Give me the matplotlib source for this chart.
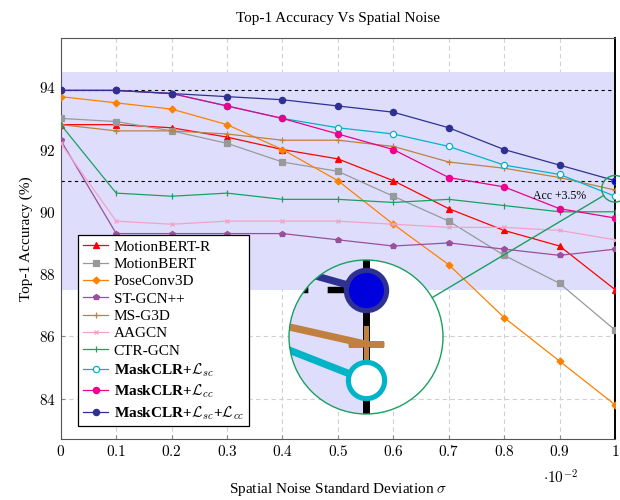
import numpy as np
import matplotlib
matplotlib.use('Agg')
import matplotlib.pyplot as plt
from matplotlib.patches import Circle
from matplotlib.lines import Line2D
from matplotlib.ticker import FuncFormatter, MultipleLocator
from matplotlib.transforms import IdentityTransform

plt.rcParams['font.family'] = ['Liberation Serif', 'DejaVu Serif']
plt.rcParams['mathtext.fontset'] = 'cm'

# noise std (x 10^-2)
sigma = [0, 0.1, 0.2, 0.3, 0.4, 0.5, 0.6, 0.7, 0.8, 0.9, 1.0]

motionbert_r = [92.8, 92.8, 92.7, 92.4, 92.0, 91.7, 91.0, 90.1, 89.4, 88.9, 87.5]
motionbert = [93.0, 92.9, 92.6, 92.2, 91.6, 91.3, 90.5, 89.7, 88.6, 87.7, 86.2]
poseconv3d = [93.7, 93.5, 93.3, 92.8, 92.0, 91.0, 89.6, 88.3, 86.6, 85.2, 83.8]
stgcn_pp = [92.3, 89.3, 89.3, 89.3, 89.3, 89.1, 88.9, 89.0, 88.8, 88.6, 88.8]
msg3d = [92.8, 92.6, 92.6, 92.5, 92.3, 92.3, 92.1, 91.6, 91.4, 91.1, 90.7]
aagcn = [92.2, 89.7, 89.6, 89.7, 89.7, 89.7, 89.6, 89.5, 89.5, 89.4, 89.1]
ctrgcn = [92.8, 90.6, 90.5, 90.6, 90.4, 90.4, 90.3, 90.4, 90.2, 90.0, 90.0]
maskclr_sc = [93.9, 93.9, 93.8, 93.4, 93.0, 92.7, 92.5, 92.1, 91.5, 91.2, 90.5]
maskclr_cc = [93.9, 93.9, 93.8, 93.4, 93.0, 92.5, 92.0, 91.1, 90.8, 90.1, 89.8]
maskclr_both = [93.9, 93.9, 93.8, 93.7, 93.6, 93.4, 93.2, 92.7, 92.0, 91.5, 91.0]

band = (87.5, 94.5)
ref_lines = [93.9, 91.0]
spy_center = (1.0, 90.74)   # point magnified in the inset
mag = 5.8

# (data, label, color, marker, markersize, facecolor, bold)
series = [
    (motionbert_r, 'MotionBERT-R', '#ff0000', '^', 5, None, False),
    (motionbert, 'MotionBERT', '#999999', 's', 5, None, False),
    (poseconv3d, 'PoseConv3D', '#ff8000', 'D', 3.5, None, False),
    (stgcn_pp, 'ST-GCN++', '#9b4f9b', 'p', 4, None, False),
    (msg3d, 'MS-G3D', '#c08040', '+', 4.5, None, False),
    (aagcn, 'AAGCN', '#f5a0c8', 'x', 3.5, None, False),
    (ctrgcn, 'CTR-GCN', '#18a060', '|', 4.5, None, False),
    (maskclr_sc, r'MaskCLR+$\mathcal{L}_{sc}$', '#00b4c8', 'o', 4.5, 'white', True),
    (maskclr_cc, r'MaskCLR+$\mathcal{L}_{cc}$', '#ec008c', 'o', 4.5, None, True),
    (maskclr_both, r'MaskCLR+$\mathcal{L}_{sc}$+$\mathcal{L}_{cc}$', '#2e3192', 'o', 4.5, None, True),
]


def draw_series(ax, scale=1.0, labels=True):
    for vals, label, color, marker, ms, fc, bold in series:
        ax.plot(sigma, vals, color=color, lw=0.9 * scale, marker=marker,
                ms=ms * scale, mfc=fc if fc else color, mec=color,
                mew=0.9 * scale ** 0.8, label=label if labels else None, zorder=3)
    # highlighted last point of the best model
    ax.plot(sigma[-1], maskclr_both[-1], 'o', ms=5 * scale, mfc='#0000dd',
            mec='#2e3192', mew=0.9 * scale ** 0.8, zorder=4)


fig = plt.figure(figsize=(6.2, 5.0), dpi=100)
ax = fig.add_axes([0.098, 0.122, 0.894, 0.803])

ax.axhspan(band[0], band[1], color='#dedefc', lw=0, zorder=1)
for yv in ref_lines:
    ax.hlines(yv, 0, 1, color='black', lw=0.8, ls=(0, (3, 3)), zorder=2)
draw_series(ax)

ax.set_xlim(0, 1)
ax.set_ylim(82.7, 95.6)
ax.xaxis.set_major_locator(MultipleLocator(0.1))
ax.yaxis.set_major_locator(MultipleLocator(2))
ax.xaxis.set_major_formatter(FuncFormatter(lambda v, p: r'$%g$' % round(v, 2)))
ax.yaxis.set_major_formatter(FuncFormatter(lambda v, p: r'$%g$' % v))
ax.set_axisbelow(True)
ax.grid(True, color='#d0d0d0', ls=(0, (4, 3)), lw=0.8)
ax.tick_params(direction='in', length=3, color='#888888', labelsize=11)
for s in ['left', 'bottom', 'top']:
    ax.spines[s].set_color('#555555')
ax.spines['right'].set_color('black')
ax.spines['right'].set_linewidth(1.4)

ax.set_title('Top-1 Accuracy Vs Spatial Noise', fontsize=11, pad=11)
ax.set_xlabel(r'Spatial Noise Standard Deviation $\sigma$', fontsize=11, labelpad=16)
ax.set_ylabel('Top-1 Accuracy (%)', fontsize=11)
ax.text(0.901, -0.097, r'$\cdot 10^{-2}$', transform=ax.transAxes,
        ha='center', va='center', fontsize=11)
ax.text(0.9, 90.52, 'Acc +3.5%', ha='center', va='center', fontsize=8.5, zorder=5)

leg = ax.legend(loc='lower left', bbox_to_anchor=(0.031, 0.032), borderaxespad=0,
                fontsize=11, frameon=True, fancybox=False, edgecolor='black',
                framealpha=1, labelspacing=0.24, handlelength=1.7,
                handletextpad=0.35, borderpad=0.3)
leg.get_frame().set_linewidth(0.9)
for txt, s in zip(leg.get_texts(), series):
    if s[6]:
        txt.set_fontweight('bold')

# magnified inset (circular)
r_px = 77
cx_px, cy_px = 366, 163
ax_in = fig.add_axes([(cx_px - r_px) / 620, (cy_px - r_px) / 500,
                      2 * r_px / 620, 2 * r_px / 500])
ax_in.axis('off')
p0 = ax.transData.transform((0, 0))
p1 = ax.transData.transform((1, 1))
px_x = (p1[0] - p0[0]) * mag
px_y = (p1[1] - p0[1]) * mag
hx, hy = r_px / px_x, r_px / px_y
x_lo = spy_center[0] - hx

ax_in.add_patch(Circle((0.5, 0.5), 0.5, transform=ax_in.transAxes,
                       facecolor='white', edgecolor='none', zorder=0))
ax_in.fill_between([x_lo, 1.0], band[0], band[1], color='#dedefc', lw=0, zorder=1)
for yv in ref_lines:
    ax_in.hlines(yv, x_lo, 1.0, color='black', lw=0.8 * mag, ls=(0, (3, 3)), zorder=2)
ax_in.axvline(1.0, color='black', lw=5, zorder=2)
draw_series(ax_in, scale=mag, labels=False)
ax_in.set_xlim(spy_center[0] - hx, spy_center[0] + hx)
ax_in.set_ylim(spy_center[1] - hy, spy_center[1] + hy)

clip = Circle((0.5, 0.5), 0.5, transform=ax_in.transAxes)
for art in ax_in.lines + ax_in.collections + ax_in.patches:
    art.set_clip_path(clip)
ax_in.add_patch(Circle((0.5, 0.5), 0.5, transform=ax_in.transAxes,
                       facecolor='none', edgecolor='#18a060', lw=1.0,
                       zorder=10, clip_on=False))

# small spy circle and connector line
small_r = r_px / mag
sc = ax.transData.transform(spy_center)
bc = ax_in.transAxes.transform((0.5, 0.5))
fig.add_artist(Circle(sc, small_r, transform=IdentityTransform(),
                      facecolor='none', edgecolor='#18a060', lw=1.0, zorder=10))
d = (bc - sc) / np.hypot(*(bc - sc))
a = sc + d * small_r
b = bc - d * r_px
fig.add_artist(Line2D([a[0], b[0]], [a[1], b[1]], transform=IdentityTransform(),
                      color='#18a060', lw=1.0, zorder=10))

fig.savefig('out.png', dpi=100)
